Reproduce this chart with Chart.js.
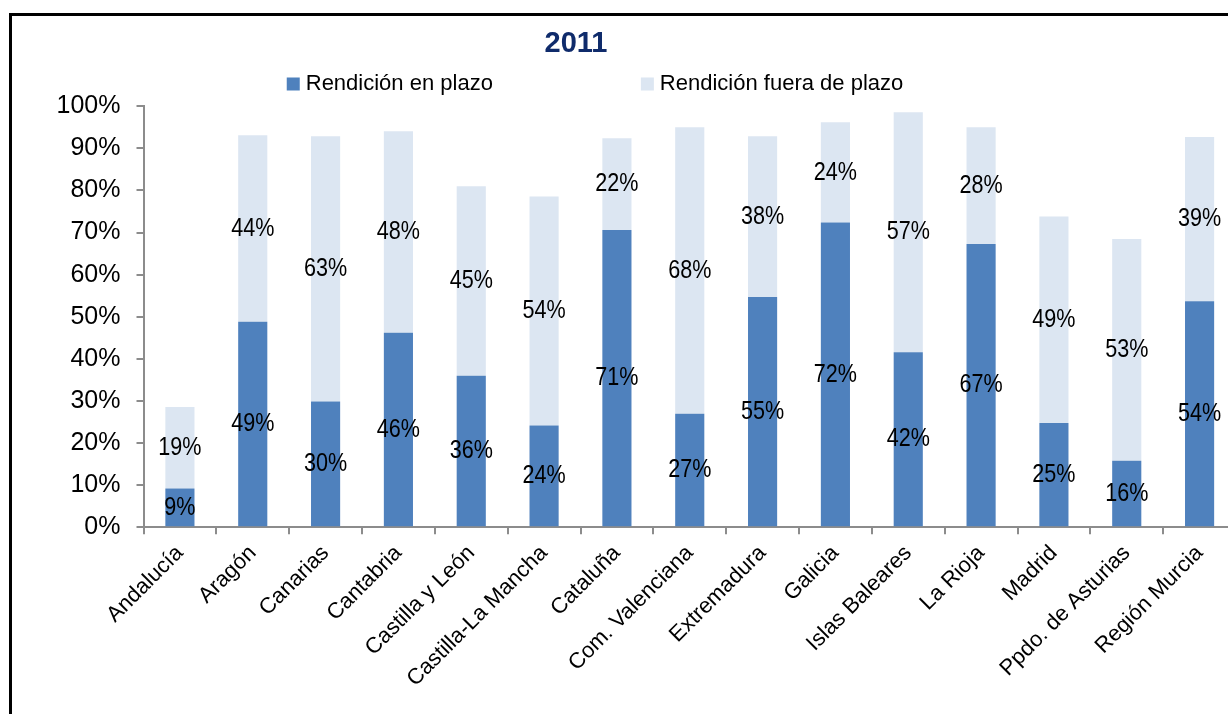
<!DOCTYPE html>
<html>
<head>
<meta charset="utf-8">
<script src="https://cdn.jsdelivr.net/npm/chart.js@4/dist/chart.umd.min.js"></script>
<style>
    body { margin: 0; background: #fff; overflow: hidden; width: 1228px; height: 714px; position: relative; }
    .frame { position: absolute; left: 9px; top: 13px; width: 1400px; height: 900px; border-left: 3px solid #000; border-top: 3px solid #000; }
    .chart-box { position: absolute; left: -84px; top: 0; width: 1320px; height: 714px; }
</style>
</head>
<body>
<div class="frame"></div>
<div class="chart-box"><canvas id="rendicionChart"></canvas></div>
<script>
// Comunidades autónomas
const regions = ['Andalucía', 'Aragón', 'Canarias', 'Cantabria', 'Castilla y León', 'Castilla-La Mancha',
    'Cataluña', 'Com. Valenciana', 'Extremadura', 'Galicia', 'Islas Baleares', 'La Rioja', 'Madrid',
    'Ppdo. de Asturias', 'Región Murcia'];

// % de rendición (2011)
const enPlazo = [9.2, 48.8, 29.9, 46.2, 36.0, 24.2, 70.6, 27.0, 54.7, 72.4, 41.6, 67.3, 24.8, 15.8, 53.7];
const fueraPlazo = [19.4, 44.3, 63.0, 47.9, 45.0, 54.4, 21.8, 68.0, 38.2, 23.8, 57.0, 27.7, 49.0, 52.7, 39.0];

const yTicks = [0, 10, 20, 30, 40, 50, 60, 70, 80, 90, 100];

// Percent labels centred in each bar segment (slightly condensed like the original)
const barValueLabels = {
    id: 'barValueLabels',
    afterDatasetsDraw(chart) {
        const ctx = chart.ctx;
        const squeeze = 0.83;
        ctx.save();
        ctx.font = '26px "Liberation Sans", Arial, sans-serif';
        ctx.fillStyle = '#000';
        ctx.textAlign = 'center';
        ctx.textBaseline = 'middle';
        chart.data.datasets.forEach((ds, i) => {
            chart.getDatasetMeta(i).data.forEach((bar, j) => {
                const { x, y, base } = bar.getProps(['x', 'y', 'base'], true);
                ctx.save();
                ctx.translate(x, (y + base) / 2);
                ctx.scale(squeeze, 1);
                ctx.fillText(Math.round(ds.data[j]) + '%', 0, 0);
                ctx.restore();
            });
        });
        ctx.restore();
    }
};

// Legend drawn in one row, centred with a wide gap between items
const topLegend = {
    id: 'topLegend',
    afterDraw(chart, args, opts) {
        const ctx = chart.ctx;
        ctx.save();
        ctx.font = '22px "Liberation Sans", Arial, sans-serif';
        ctx.textBaseline = 'middle';
        const items = chart.data.datasets.map(ds => ({
            text: ds.label,
            color: ds.backgroundColor,
            w: ctx.measureText(ds.label).width
        }));
        const total = items.reduce((s, it) => s + opts.box + opts.boxGap + it.w, 0) + opts.gap * (items.length - 1);
        let x = opts.centerX - total / 2;
        items.forEach(it => {
            ctx.fillStyle = it.color;
            ctx.fillRect(x, opts.y - opts.box / 2, opts.box, opts.box);
            x += opts.box + opts.boxGap;
            ctx.fillStyle = '#000';
            ctx.fillText(it.text, x, opts.y);
            x += it.w + opts.gap;
        });
        ctx.restore();
    }
};

const ctx = document.getElementById('rendicionChart').getContext('2d');
new Chart(ctx, {
    type: 'bar',
    data: {
        labels: regions,
        datasets: [{
            label: 'Rendición en plazo',
            data: enPlazo,
            backgroundColor: '#4F81BD',
            barPercentage: 0.4,
            categoryPercentage: 1.0
        }, {
            label: 'Rendición fuera de plazo',
            data: fueraPlazo,
            backgroundColor: '#DCE6F2',
            barPercentage: 0.4,
            categoryPercentage: 1.0
        }]
    },
    options: {
        responsive: true,
        maintainAspectRatio: false,
        animation: false,
        layout: { padding: 0 },
        plugins: {
            legend: { display: false },
            tooltip: { enabled: false },
            title: {
                display: true,
                text: '2011',
                color: '#0F2B6B',
                font: { family: '"Liberation Sans", Arial, sans-serif', size: 29, weight: 'bold' },
                padding: { top: 27, bottom: 44.5 }
            },
            topLegend: { centerX: 679, y: 84, box: 13, boxGap: 6, gap: 148 }
        },
        scales: {
            x: {
                stacked: true,
                border: { color: '#8c8c8c', width: 2 },
                grid: { drawOnChartArea: false, color: '#8c8c8c', lineWidth: 2, tickLength: 7, offset: true },
                ticks: {
                    color: '#000',
                    font: { family: '"Liberation Sans", Arial, sans-serif', size: 22 },
                    minRotation: 45,
                    maxRotation: 45,
                    autoSkip: false,
                    padding: 6
                },
                afterFit: scale => { scale.height = 186.7; }
            },
            y: {
                stacked: true,
                min: 0,
                max: 100,
                border: { color: '#8c8c8c', width: 2 },
                grid: { drawOnChartArea: false, color: '#8c8c8c', lineWidth: 2, tickLength: 7 },
                afterBuildTicks: scale => { scale.ticks = yTicks.map(v => ({ value: v })); },
                ticks: {
                    color: '#000',
                    font: { family: '"Liberation Sans", Arial, sans-serif', size: 25 },
                    padding: 16,
                    callback: v => v + '%'
                },
                afterFit: scale => { scale.width = 227.5; }
            }
        }
    },
    plugins: [barValueLabels, topLegend]
});
</script>
</body>
</html>
